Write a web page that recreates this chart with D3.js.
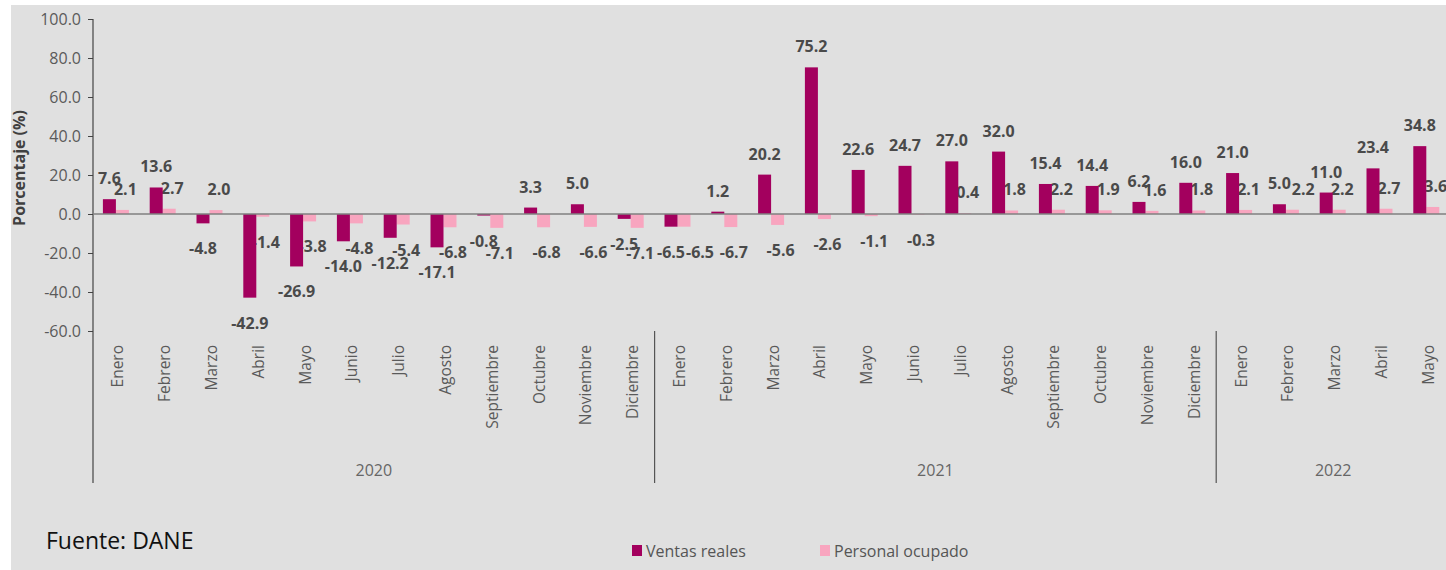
<!DOCTYPE html>
<html>
<head>
<meta charset="utf-8">
<script src="https://cdn.jsdelivr.net/npm/d3@7"></script>
<style>
  html, body { margin: 0; padding: 0; background: #fff; }
  svg { display: block; font-family: "Open Sans", "Noto Sans", sans-serif; }
</style>
</head>
<body>
<svg id="sg"></svg>
<script>
// datos
const months = ["Enero", "Febrero", "Marzo", "Abril", "Mayo", "Junio", "Julio",
  "Agosto", "Septiembre", "Octubre", "Noviembre", "Diciembre"];
const years = ["2020", "2021", "2022"];
const monthsPerYear = [12, 12, 5];
const ventas = [7.6, 13.6, -4.8, -42.9, -26.9, -14.0, -12.2, -17.1, -0.8, 3.3, 5.0, -2.5,
  -6.5, 1.2, 20.2, 75.2, 22.6, 24.7, 27.0, 32.0, 15.4, 14.4, 6.2, 16.0,
  21.0, 5.0, 11.0, 23.4, 34.8];
const personal = [2.1, 2.7, 2.0, -1.4, -3.8, -4.8, -5.4, -6.8, -7.1, -6.8, -6.6, -7.1,
  -6.5, -6.7, -5.6, -2.6, -1.1, -0.3, 0.4, 1.8, 2.2, 1.9, 1.6, 1.8,
  2.1, 2.2, 2.2, 2.7, 3.6];
const yTicks = [-60, -40, -20, 0, 20, 40, 60, 80, 100];
const seriesNames = ["Ventas reales", "Personal ocupado"];

(function() {
let svgWidth = 1446, svgHeight = 570;
let colV = "#a3005e", colP = "#f8a5bf";
let fmt = d3.formatLocale({
  decimal: ".", thousands: ",", grouping: [3], currency: ["", ""], minus: "-"
}).format(".1f");

let data = [];
years.forEach(function(yr, i) {
  for (let m = 0; m < monthsPerYear[i]; m++) {
    data.push({ key: yr + "-" + m, year: yr, month: months[m] });
  }
});
data.forEach(function(d, i) {
  d.v = ventas[i];
  d.p = personal[i];
});

let svg = d3.select("#sg").attr("width", svgWidth).attr("height", svgHeight);

// fondo gris
svg.append("rect").attr("x", 11).attr("y", 5)
  .attr("width", svgWidth - 11).attr("height", svgHeight - 5)
  .attr("fill", "#e0e0e0");

let marginLeft = 93, plotTop = 19, plotBottom = 331, axisBottom = 483;
let band = 46.8;

let x = d3.scaleBand()
  .domain(data.map(d => d.key))
  .range([marginLeft, marginLeft + band * data.length])
  .padding(0);
let bw = x.bandwidth();
let x1 = d3.scaleBand().domain(["v", "p"])
  .range([bw / 2 - 13.5, bw / 2 + 12.5]).padding(0);

let y = d3.scaleLinear().domain([-60, 100]).range([plotBottom, plotTop]);

// eje Y
let yAxis = d3.axisLeft(y).tickValues(yTicks).tickSize(5).tickFormat(fmt);
let gy = svg.append("g").attr("transform", "translate(" + marginLeft + ",0)").call(yAxis);
gy.select(".domain").remove();
gy.selectAll(".tick line").attr("stroke", "#444");
gy.selectAll(".tick text")
  .attr("x", -12)
  .attr("fill", "#5a5a5a")
  .style("font-size", "16px")
  .style("font-family", "'Open Sans', sans-serif");

svg.append("line")
  .attr("x1", marginLeft).attr("x2", marginLeft)
  .attr("y1", plotTop).attr("y2", axisBottom)
  .attr("stroke", "#444").attr("stroke-width", 1.2);

svg.append("text")
  .attr("transform", "translate(19,168) rotate(-90)")
  .attr("text-anchor", "middle")
  .attr("dominant-baseline", "central")
  .attr("fill", "#404040")
  .style("font-size", "16px")
  .style("font-weight", "bold")
  .text("Porcentaje (%)");

// separadores de año
let yearStart = 0;
years.forEach(function(yr, i) {
  let first = data[yearStart].key;
  let last = data[yearStart + monthsPerYear[i] - 1].key;
  let x0 = x(first), xEnd = x(last) + bw;
  if (i > 0) {
    svg.append("line")
      .attr("x1", x0).attr("x2", x0)
      .attr("y1", plotBottom).attr("y2", axisBottom)
      .attr("stroke", "#555").attr("stroke-width", 1.2);
  }
  svg.append("text")
    .attr("x", (x0 + xEnd) / 2)
    .attr("y", 476)
    .attr("text-anchor", "middle")
    .attr("fill", "#666")
    .style("font-size", "16px")
    .text(yr);
  yearStart += monthsPerYear[i];
});

// etiquetas de mes
svg.append("g").selectAll("text").data(data).enter().append("text")
  .attr("transform", d => "translate(" + (x(d.key) + bw / 2 + 1) + ",345) rotate(-90)")
  .attr("text-anchor", "end")
  .attr("dominant-baseline", "central")
  .attr("fill", "#5a5a5a")
  .style("font-size", "15.5px")
  .text(d => d.month);

function labelY(v) {
  return v >= 0 ? y(v) - 21 : y(v) + 25;
}

// barras personal ocupado
svg.append("g").selectAll("rect").data(data).enter().append("rect")
  .attr("x", d => x(d.key) + x1("p"))
  .attr("width", x1.bandwidth())
  .attr("y", d => y(Math.max(0, d.p)))
  .attr("height", d => Math.abs(y(d.p) - y(0)))
  .attr("fill", colP);

// grupo para etiquetas de personal (debajo de las barras de ventas)
let gLabP = svg.append("g");

// barras ventas reales
svg.append("g").selectAll("rect").data(data).enter().append("rect")
  .attr("x", d => x(d.key) + x1("v"))
  .attr("width", x1.bandwidth())
  .attr("y", d => y(Math.max(0, d.v)))
  .attr("height", d => Math.abs(y(d.v) - y(0)))
  .attr("fill", colV);

// linea cero
svg.append("line")
  .attr("x1", marginLeft).attr("x2", svgWidth)
  .attr("y1", y(0)).attr("y2", y(0))
  .attr("stroke", "#808080").attr("stroke-width", 1.5);

// etiquetas ventas reales
let labV = svg.append("g").selectAll("text").data(data).enter().append("text")
  .attr("x", d => x(d.key) + x1("v") + x1.bandwidth() / 2)
  .attr("y", d => labelY(d.v))
  .attr("text-anchor", "middle")
  .attr("dominant-baseline", "central")
  .attr("fill", "#4a4a4a")
  .style("font-size", "16px")
  .style("font-weight", "bold")
  .text(d => fmt(d.v));

labV.each(function(d) {
  let b = this.getBBox();
  d.vRight = b.x + b.width;
});

// etiquetas personal ocupado: se corren a la derecha si chocan con ventas
gLabP.selectAll("text").data(data).enter().append("text")
  .attr("y", d => labelY(d.p))
  .attr("text-anchor", "middle")
  .attr("dominant-baseline", "central")
  .attr("fill", "#4a4a4a")
  .style("font-size", "16px")
  .style("font-weight", "bold")
  .text(d => fmt(d.p))
  .attr("x", function(d) {
    let cx = x(d.key) + x1("p") + x1.bandwidth() / 2 + 3;
    let w = this.getComputedTextLength();
    if (Math.abs(labelY(d.p) - labelY(d.v)) < 6 && cx - w / 2 < d.vRight + 1) {
      cx = d.vRight + 1 + w / 2;
    }
    return cx;
  });

// fuente
svg.append("text")
  .attr("x", 46).attr("y", 549)
  .attr("fill", "#111")
  .style("font-size", "23px")
  .text("Fuente: DANE");

// leyenda
let legendX = [632, 820];
seriesNames.forEach(function(name, i) {
  let g = svg.append("g").attr("transform", "translate(" + legendX[i] + ",545)");
  g.append("rect").attr("width", 10).attr("height", 11)
    .attr("fill", i === 0 ? colV : colP);
  g.append("text").attr("x", 14).attr("y", 6)
    .attr("dominant-baseline", "central")
    .attr("fill", "#555")
    .style("font-size", "16px")
    .text(name);
});
})();
</script>
</body>
</html>
